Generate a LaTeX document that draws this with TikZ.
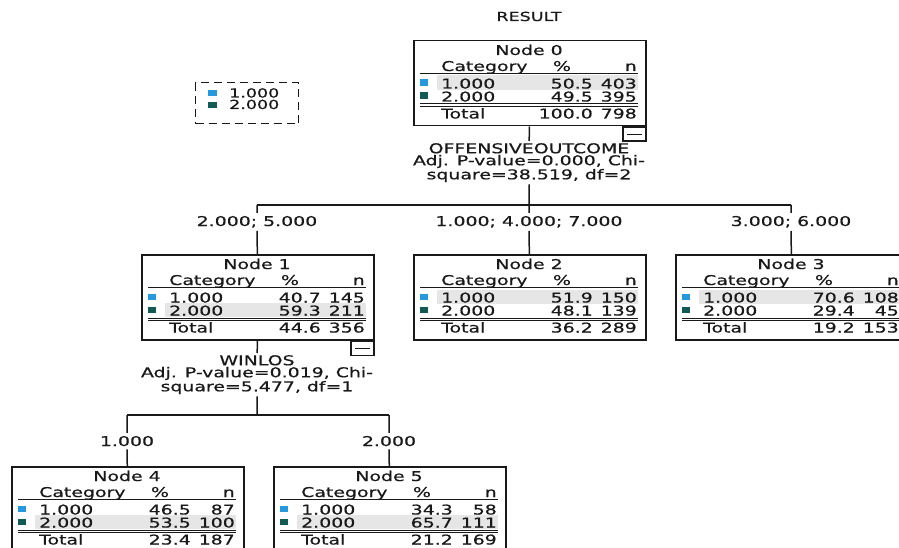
\documentclass[tikz,border=0pt]{standalone}
\usepackage{fontspec}
\setmainfont{DejaVu Sans}[FakeStretch=1.4, FakeBold=0.6]
\definecolor{catone}{RGB}{38,152,222}
\definecolor{cattwo}{RGB}{18,90,84}
\definecolor{rowgrey}{RGB}{230,230,230}
\definecolor{ink}{RGB}{25,25,25}

\tikzset{
  treebox/.style={draw=ink, line width=1.5pt, anchor=north west, inner sep=0pt,
    minimum width=232pt, minimum height=85pt},
  cell/.style={inner sep=0pt, text=ink, font=\fontsize{13.5}{12}\selectfont},
  split/.style={inner sep=2pt, text=ink, align=center, anchor=north,
    font=\fontsize{13.5}{12}\selectfont},
  branch/.style={inner sep=3pt, text=ink, anchor=base, font=\fontsize{13.5}{12}\selectfont},
  link/.style={draw=ink, line width=1.5pt},
  minusbox/.style={draw=ink, line width=1.5pt, anchor=north east, inner sep=0pt,
    minimum width=23pt, minimum height=14pt,
    path picture={\draw[ink, line width=1.2pt]
      ([xshift=4pt]path picture bounding box.west) -- ([xshift=-4pt]path picture bounding box.east);}},
  legendbox/.style={draw=ink, line width=1.4pt, dash pattern=on 8pt off 5pt,
    anchor=north west, minimum width=103pt, minimum height=41pt},
  legtxt/.style={cell, anchor=base west, font=\fontsize{12.5}{12}\selectfont},
}

% one tree node: name, north west corner, number, row 1 (%/n), row 2 (%/n), total (%/n)
\newcommand\catnode[9]{%
  \node[treebox] (#1) at #2 {};
  \begin{scope}[shift={(#1.north west)}]
    \ifdim #4pt>#6pt \def\toprow{48.5}\else\def\toprow{61.5}\fi
    \fill[rowgrey] (24,\toprow-13) rectangle (225,\toprow+1.5);
    \node[cell, anchor=base] (#1-title) at (116,15) {Node #3};
    \node[cell, anchor=base west] (#1-cat) at (28,31) {Category};
    \node[cell, anchor=base] (#1-pct) at (149,31) {\%};
    \node[cell, anchor=base east] (#1-n) at (224,31) {n};
    \draw[ink, line width=1.6pt] (7,33.5) -- (225,33.5);
    \foreach \lab/\pc/\nn/\yy/\col [count=\i] in
        {1.000/#4/#5/48.5/catone, 2.000/#6/#7/61.5/cattwo} {
      \fill[\col] (6.5,\yy-9) rectangle (14.5,\yy-2.5);
      \node[cell, anchor=base west] (#1-lab\i) at (28,\yy) {\lab};
      \node[cell, anchor=base east] (#1-pc\i) at (180,\yy) {\pc};
      \node[cell, anchor=base east] (#1-nn\i) at (224,\yy) {\nn};
    }
    \draw[ink, line width=1pt] (7,64) -- (225,64) (7,66.5) -- (225,66.5);
    \node[cell, anchor=base west] (#1-tot) at (28,78.5) {Total};
    \node[cell, anchor=base east] (#1-totpc) at (180,78.5) {#8};
    \node[cell, anchor=base east] (#1-totn) at (224,78.5) {#9};
  \end{scope}}

\begin{document}
\begin{tikzpicture}[x=1pt, y=-1pt]
  \useasboundingbox[fill=white] (0,0) rectangle (899,548);

  \node[cell, anchor=base, font=\fontsize{12.5}{12}\selectfont] (result) at (529,21) {RESULT};

  % legend
  \node[legendbox] (legend) at (195,82) {};
  \fill[catone] (208,90.5) rectangle (217,96.5);
  \fill[cattwo] (208,102) rectangle (217,108);
  \node[legtxt] (leg1) at (229,97.5) {1.000};
  \node[legtxt] (leg2) at (229,109) {2.000};

  % nodes
  \catnode{n0}{(413,40)}{0}{50.5}{403}{49.5}{395}{100.0}{798}
  \catnode{n1}{(141,254)}{1}{40.7}{145}{59.3}{211}{44.6}{356}
  \catnode{n2}{(413,254)}{2}{51.9}{150}{48.1}{139}{36.2}{289}
  \catnode{n3}{(675,254)}{3}{70.6}{108}{29.4}{45}{19.2}{153}
  \catnode{n4}{(11,466)}{4}{46.5}{87}{53.5}{100}{23.4}{187}
  \catnode{n5}{(273,466)}{5}{34.3}{58}{65.7}{111}{21.2}{169}
  \node[minusbox] (m0) at (n0.south east) {};
  \node[minusbox] (m1) at (n1.south east) {};

  % first split
  \node[split] (s0) at (529,141) {OFFENSIVEOUTCOME\\Adj. P-value=0.000, Chi-\\square=38.519, df=2};
  \coordinate (b0) at (529,205);
  \node[branch] (l1) at (257,226) {2.000; 5.000};
  \node[branch] (l2) at (529,226) {1.000; 4.000; 7.000};
  \node[branch] (l3) at (791,226) {3.000; 6.000};
  \draw[link] (n0) -- (s0) -- (b0);
  \draw[link] (l1 |- b0) -- (l3 |- b0);
  \foreach \k in {1,2,3}
    \draw[link] (l\k |- b0) -- (l\k) (l\k) -- (n\k);

  % second split
  \node[split] (s1) at (257,353) {WINLOS\\Adj. P-value=0.019, Chi-\\square=5.477, df=1};
  \coordinate (b1) at (257,415);
  \node[branch] (l4) at (127,446) {1.000};
  \node[branch] (l5) at (389,446) {2.000};
  \draw[link] (n1) -- (s1) -- (b1);
  \draw[link] (l4 |- b1) -- (l5 |- b1);
  \foreach \k in {4,5}
    \draw[link] (l\k |- b1) -- (l\k) (l\k) -- (n\k);
\end{tikzpicture}
\end{document}
